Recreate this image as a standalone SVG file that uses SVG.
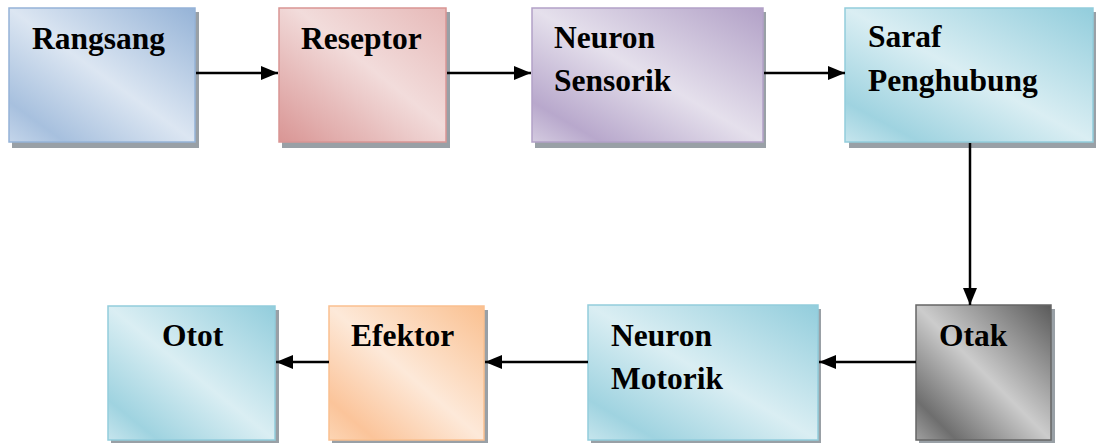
<svg xmlns="http://www.w3.org/2000/svg" width="1096" height="443" viewBox="0 0 1096 443">
<style>
.t{font-family:"Liberation Serif","Times New Roman",serif;font-weight:bold;font-size:31.5px;fill:#000}
.sh{fill:#55606b;opacity:0.6}
.c{stroke:#000;stroke-width:2.5;fill:none;marker-end:url(#ah)}
</style>
<defs>
<marker id="ah" viewBox="0 0 17 14" refX="17" refY="7" markerWidth="17" markerHeight="14" markerUnits="userSpaceOnUse" orient="auto">
<path d="M0,0 L17,7 L0,14 z" fill="#000"/>
</marker>
<linearGradient id="gBlue" x1="1" y1="0" x2="0" y2="1">
<stop offset="0" stop-color="#95b3d7"/><stop offset="0.5" stop-color="#dce6f2"/><stop offset="0.85" stop-color="#a7c0de"/><stop offset="1" stop-color="#c4d5ea"/>
</linearGradient>
<linearGradient id="gRed" x1="1" y1="0" x2="0" y2="1">
<stop offset="0" stop-color="#e6b9b8"/><stop offset="0.45" stop-color="#f2dcdb"/><stop offset="1" stop-color="#d99594"/>
</linearGradient>
<linearGradient id="gPurple" x1="1" y1="0" x2="0" y2="1">
<stop offset="0" stop-color="#b2a1c7"/><stop offset="0.5" stop-color="#e5e0ec"/><stop offset="0.85" stop-color="#b8a8cc"/><stop offset="1" stop-color="#d4cbe0"/>
</linearGradient>
<linearGradient id="gAqua" x1="1" y1="0" x2="0" y2="1">
<stop offset="0" stop-color="#92cddc"/><stop offset="0.5" stop-color="#daeef3"/><stop offset="0.85" stop-color="#9fd3e0"/><stop offset="1" stop-color="#c6e5ed"/>
</linearGradient>
<linearGradient id="gGray" x1="1" y1="0" x2="0" y2="1">
<stop offset="0" stop-color="#5a5a5a"/><stop offset="0.5" stop-color="#cccccc"/><stop offset="0.85" stop-color="#6e6e6e"/><stop offset="1" stop-color="#a0a0a0"/>
</linearGradient>
<linearGradient id="gOrange" x1="1" y1="0" x2="0" y2="1">
<stop offset="0" stop-color="#fac090"/><stop offset="0.5" stop-color="#fde9d9"/><stop offset="0.85" stop-color="#fbc49a"/><stop offset="1" stop-color="#fcd5b4"/>
</linearGradient>
</defs>

<g id="rangsang">
<rect class="sh" x="12" y="12" width="187" height="136"/>
<rect x="9" y="8" width="186" height="134" fill="url(#gBlue)" stroke="#95b3d7" stroke-width="1.5"/>
<text class="t" x="32" y="49">Rangsang</text>
</g>
<g id="reseptor">
<rect class="sh" x="282" y="12" width="168" height="136"/>
<rect x="279" y="8" width="167" height="134" fill="url(#gRed)" stroke="#d99594" stroke-width="1.5"/>
<text class="t" x="301" y="49">Reseptor</text>
</g>
<g id="neuron-sensorik">
<rect class="sh" x="535" y="12" width="231" height="136"/>
<rect x="532" y="8" width="231" height="134" fill="url(#gPurple)" stroke="#b2a1c7" stroke-width="1.5"/>
<text class="t" x="554" y="48">Neuron</text>
<text class="t" x="554" y="91">Sensorik</text>
</g>
<g id="saraf-penghubung">
<rect class="sh" x="849" y="12" width="247" height="136"/>
<rect x="845" y="8" width="248" height="134" fill="url(#gAqua)" stroke="#92cddc" stroke-width="1.5"/>
<text class="t" x="868" y="47">Saraf</text>
<text class="t" x="868" y="91">Penghubung</text>
</g>
<g id="otak">
<rect class="sh" x="919" y="309" width="136" height="134"/>
<rect x="916" y="305" width="135" height="135" fill="url(#gGray)" stroke="#666" stroke-width="1.5"/>
<text class="t" x="939" y="346">Otak</text>
</g>
<g id="neuron-motorik">
<rect class="sh" x="591" y="309" width="230" height="134"/>
<rect x="588" y="305" width="230" height="135" fill="url(#gAqua)" stroke="#92cddc" stroke-width="1.5"/>
<text class="t" x="611" y="346">Neuron</text>
<text class="t" x="611" y="389">Motorik</text>
</g>
<g id="efektor">
<rect class="sh" x="332" y="310" width="156" height="133"/>
<rect x="329" y="306" width="155" height="134" fill="url(#gOrange)" stroke="#fac090" stroke-width="1.5"/>
<text class="t" x="351" y="346">Efektor</text>
</g>
<g id="otot">
<rect class="sh" x="111" y="310" width="168" height="133"/>
<rect x="108" y="306" width="167" height="134" fill="url(#gAqua)" stroke="#92cddc" stroke-width="1.5"/>
<text class="t" x="162" y="346">Otot</text>
</g>

<g id="connectors">
<line class="c" x1="196" y1="73" x2="278" y2="73"/>
<line class="c" x1="447" y1="73" x2="531" y2="73"/>
<line class="c" x1="764" y1="73" x2="845" y2="73"/>
<line class="c" x1="970" y1="143" x2="970" y2="305"/>
<line class="c" x1="916" y1="362" x2="819" y2="362"/>
<line class="c" x1="588" y1="362" x2="485" y2="362"/>
<line class="c" x1="329" y1="362" x2="276" y2="362"/>
</g>
</svg>
